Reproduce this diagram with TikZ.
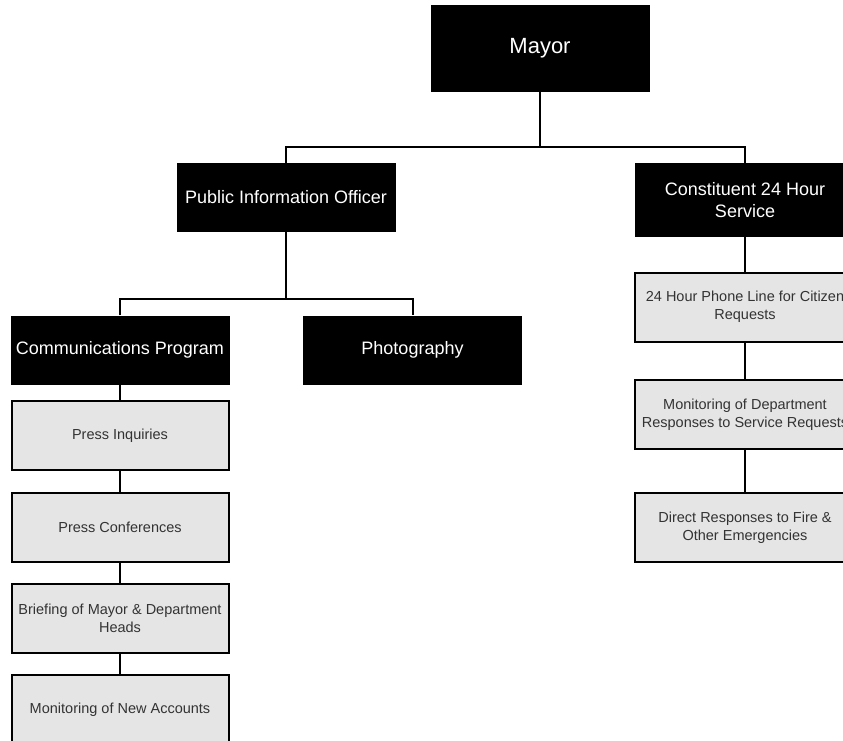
\documentclass[tikz,border=0pt]{standalone}
\usepackage{fontspec}
\setmainfont{Liberation Sans}
\begin{document}
\begin{tikzpicture}[x=1pt, y=-1pt,
        headbox/.style={fill=black, text=white, inner sep=0pt, align=center,
            minimum width=219pt, minimum height=69pt,
            font=\fontsize{18}{22}\selectfont},
        taskbox/.style={fill=black!10, draw=black, line width=2pt, text=black!80,
            inner sep=0pt, align=center, minimum width=217pt, minimum height=69pt,
            font=\fontsize{14.5}{18}\selectfont},
        link/.style={draw=black, line width=2pt}]
        \useasboundingbox (0, 0) rectangle (843, 740);

        % Top
        \node[headbox, minimum height=87pt, font=\fontsize{22}{26}\selectfont] (mayor) at (540, 48.5) {Mayor};

        % Second level
        \node[headbox] (pio) at (286, 197.5) {Public Information Officer};
        \node[headbox, minimum width=220pt, minimum height=74pt] (const) at (745, 200) {Constituent 24 Hour\\Service};

        % Under the Public Information Officer
        \node[headbox] (comm) at (120, 350) {Communications Program};
        \node[headbox] (photo) at (412.5, 350) {Photography};

        % Communications tasks
        \node[taskbox] (press) at (120, 435.5) {Press Inquiries};
        \node[taskbox] (conf) at (120, 527.5) {Press Conferences};
        \node[taskbox] (brief) at (120, 618) {Briefing of Mayor \& Department\\Heads};
        \node[taskbox] (news) at (120, 709.5) {Monitoring of New Accounts};

        % Constituent service tasks
        \node[taskbox, minimum width=220pt] (phone) at (745, 307) {24 Hour Phone Line for Citizen\\Requests};
        \node[taskbox, minimum width=220pt] (resp) at (745, 414.5) {Monitoring of Department\\Responses to Service Requests};
        \node[taskbox, minimum width=220pt] (fire) at (745, 527.5) {Direct Responses to Fire \&\\Other Emergencies};

        % Connectors
        \coordinate (mbus) at (540, 147);
        \coordinate (pbus) at (286, 299);
        \draw[link] (mayor.south) -- (mbus);
        \draw[link] (pio.north) |- (mbus) -| (const.north);
        \draw[link] (pio.south) -- (pbus);
        \draw[link] (comm.north) |- (pbus) -| (photo.north);
        \draw[link] (comm.south) -- (press.north);
        \draw[link] (press.south) -- (conf.north);
        \draw[link] (conf.south) -- (brief.north);
        \draw[link] (brief.south) -- (news.north);
        \draw[link] (const.south) -- (phone.north);
        \draw[link] (phone.south) -- (resp.north);
        \draw[link] (resp.south) -- (fire.north);
    \end{tikzpicture}
\end{document}
